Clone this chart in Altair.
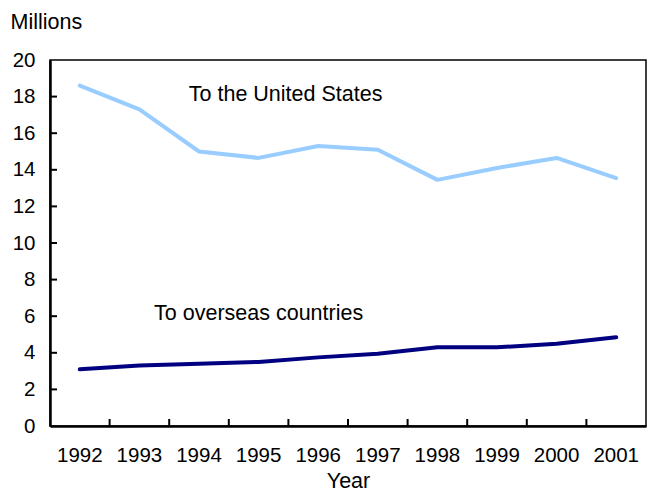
import altair as alt
import pandas as pd

years = ["1992", "1993", "1994", "1995", "1996", "1997", "1998", "1999", "2000", "2001"]
to_us = [18.6, 17.3, 15.0, 14.65, 15.3, 15.1, 13.45, 14.1, 14.65, 13.55]
to_overseas = [3.1, 3.3, 3.4, 3.5, 3.75, 3.95, 4.3, 4.3, 4.5, 4.85]
series_names = ["To the United States", "To overseas countries"]
series_colors = ["#99CCFF", "#000080"]
y_ticks = [0, 2, 4, 6, 8, 10, 12, 14, 16, 18, 20]
label_years = ["1995", "1995"]
label_values = [18.1, 6.1]

FONT = "Liberation Sans"
TICK_FS = 20.5
TEXT_FS = 21.5

rows = []
for name, vals in zip(series_names, [to_us, to_overseas]):
    for yr, v in zip(years, vals):
        rows.append({"year": yr, "value": v, "series": name})
df = pd.DataFrame(rows)

xscale = alt.Scale(type="band", domain=years, paddingInner=0, paddingOuter=0)
yscale = alt.Scale(domain=[0, 20], nice=False)

xaxis = alt.Axis(title="Year", tickSize=0, labelPadding=19, labelAngle=0,
                 labelFontSize=TICK_FS, labelFont=FONT, labelColor="black",
                 labelOverlap=False,
                 titleFontSize=TEXT_FS, titleFont=FONT, titleFontWeight="normal",
                 titleColor="black", titleY=61, titleBaseline="alphabetic",
                 domainColor="black", domainWidth=2.5)
yaxis = alt.Axis(title="Millions", values=y_ticks, tickSize=0, labelPadding=15,
                 labelFontSize=TICK_FS, labelFont=FONT, labelColor="black",
                 labelOverlap=False, labelFlush=False,
                 titleFontSize=TEXT_FS, titleFont=FONT, titleFontWeight="normal",
                 titleColor="black", titleAngle=0, titleAlign="left",
                 titleBaseline="alphabetic", titleX=-40, titleY=-32,
                 domainColor="black", domainWidth=2.5, grid=False)

lines = alt.Chart(df).mark_line(strokeWidth=4, strokeCap="round", strokeJoin="round").encode(
    x=alt.X("year:O", scale=xscale, bandPosition=0.5, axis=xaxis),
    y=alt.Y("value:Q", scale=yscale, axis=yaxis),
    color=alt.Color("series:N", scale=alt.Scale(domain=series_names, range=series_colors), legend=None),
    detail="series:N",
)

ytick_df = pd.DataFrame({"value": y_ticks[1:-1]})
yticks = alt.Chart(ytick_df).mark_rule(color="black", strokeWidth=2).encode(
    y=alt.Y("value:Q", scale=yscale, axis=yaxis),
    x=alt.value(0),
    x2=alt.value(7),
)

xtick_df = pd.DataFrame({"year": years[1:]})
xticks = alt.Chart(xtick_df).mark_rule(color="black", strokeWidth=2).encode(
    x=alt.X("year:O", scale=xscale, bandPosition=0, axis=xaxis),
    y=alt.value(366),
    y2=alt.value(359),
)

lab_df = pd.DataFrame({"year": label_years, "value": label_values, "label": series_names})
labels_us = alt.Chart(lab_df.iloc[[0]]).mark_text(
    font=FONT, fontSize=TEXT_FS, color="black", align="center", baseline="middle", dx=27
).encode(
    x=alt.X("year:O", scale=xscale, bandPosition=0.5, axis=xaxis),
    y=alt.Y("value:Q", scale=yscale, axis=yaxis),
    text="label:N",
)
labels_os = alt.Chart(lab_df.iloc[[1]]).mark_text(
    font=FONT, fontSize=TEXT_FS, color="black", align="center", baseline="middle", dx=0
).encode(
    x=alt.X("year:O", scale=xscale, bandPosition=0.5, axis=xaxis),
    y=alt.Y("value:Q", scale=yscale, axis=yaxis),
    text="label:N",
)

chart = alt.layer(lines, yticks, xticks, labels_us, labels_os).properties(
    width=596, height=366,
    autosize=alt.AutoSizeParams(type="none"),
    padding={"left": 42, "top": 52, "right": 1, "bottom": 68},
    background="white",
).configure_view(stroke="black", strokeWidth=1.5)

chart.save("out.html", embed_options={"renderer": "svg", "actions": False})
